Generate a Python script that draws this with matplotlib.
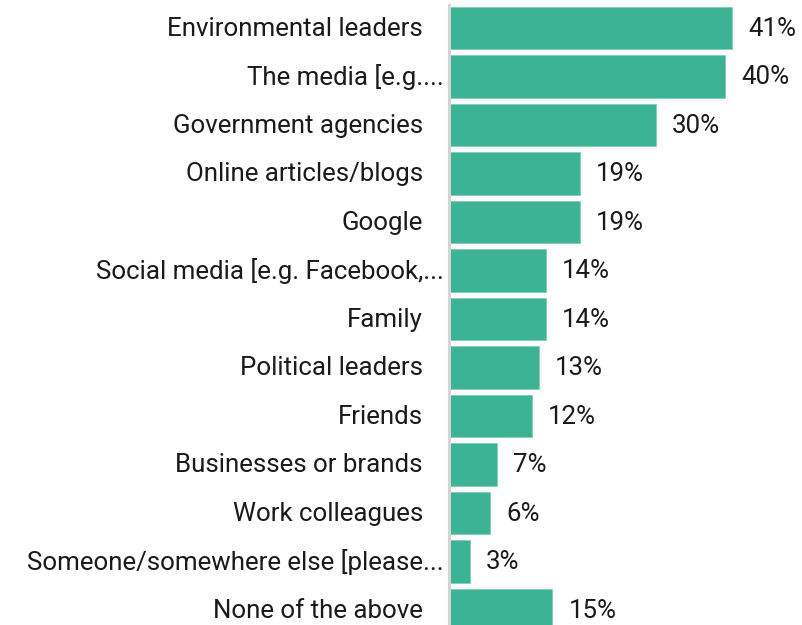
import matplotlib
matplotlib.use("Agg")
import matplotlib.pyplot as plt

categories = [
    "Environmental leaders",
    "The media [e.g....",
    "Government agencies",
    "Online articles/blogs",
    "Google",
    "Social media [e.g. Facebook,...",
    "Family",
    "Political leaders",
    "Friends",
    "Businesses or brands",
    "Work colleagues",
    "Someone/somewhere else [please...",
    "None of the above",
]
values = [41, 40, 30, 19, 19, 14, 14, 13, 12, 7, 6, 3, 15]
value_labels = ["41%", "40%", "30%", "19%", "19%", "14%", "14%", "13%", "12%", "7%", "6%", "3%", "15%"]

BAR_COLOR = "#3BB394"
TEXT_COLOR = "#1a1a1a"
FONT = ["Roboto", "DejaVu Sans"]

fig = plt.figure(figsize=(8.03, 6.25), dpi=100)
ax = fig.add_axes([449 / 803, 0.0, 1 - 449 / 803, 1.0])

ypos = list(range(len(categories)))
ax.barh(ypos, values, height=0.88, color=BAR_COLOR, edgecolor="#7fd0b8", linewidth=0.6)

ax.set_xlim(0, (803 - 449) / 6.9)
ax.set_ylim(12.31, -0.577)

for s in ["top", "right", "bottom"]:
    ax.spines[s].set_visible(False)
ax.spines["left"].set_color("#d4d4d4")
ax.spines["left"].set_linewidth(2.2)
ax.spines["left"].set_bounds(12.31, -0.47)
ax.set_xticks([])
ax.set_yticks([])

to_pts = 72 / fig.dpi
for y, v, lab, cat in zip(ypos, values, value_labels, categories):
    ax.annotate(lab, (v, y), xytext=(16 * to_pts, -1 * to_pts), textcoords="offset points",
                ha="left", va="center", fontsize=18.6, color=TEXT_COLOR, family=FONT)
    pad = 5 if cat.endswith("...") else 26
    ax.annotate(cat, (0, y), xytext=(-pad * to_pts, -1 * to_pts), textcoords="offset points",
                ha="right", va="center", fontsize=18.6, color=TEXT_COLOR, family=FONT,
                annotation_clip=False)

fig.savefig("out.png", dpi=100)
